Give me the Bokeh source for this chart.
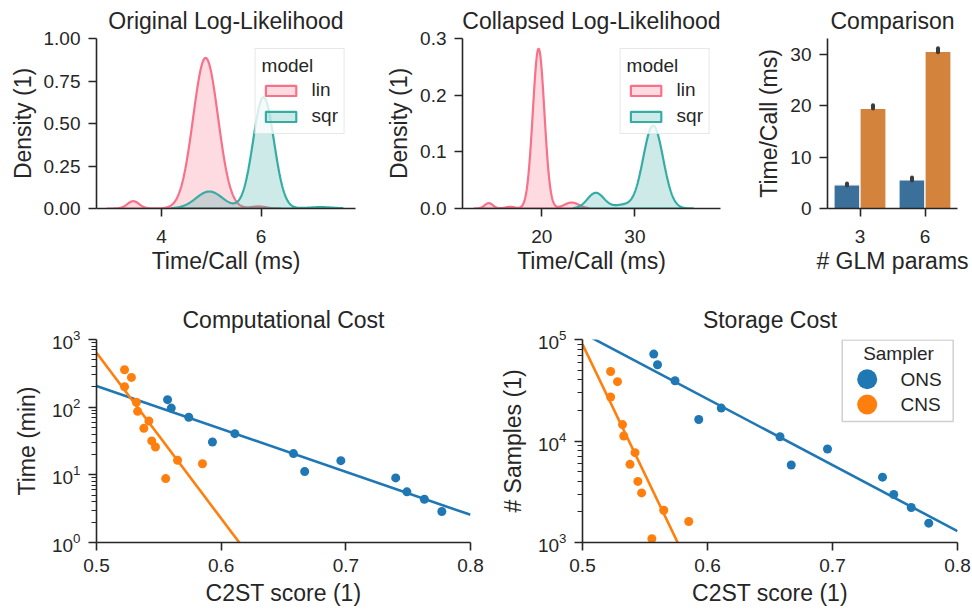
import numpy as np
from bokeh.plotting import figure
from bokeh.layouts import column, row
from bokeh.core.properties import value
from bokeh.models import (Range1d, FactorRange, FixedTicker, NumeralTickFormatter,
                          Legend, LegendItem, ColumnDataSource, LinearScale)
from bokeh.transform import dodge
from bokeh.embed import file_html
from bokeh.resources import INLINE

FONT = "Liberation Sans"
INK = "#262626"
LIN_COLOR = "#f77189"
SQR_COLOR = "#36ada4"
ONS_COLOR = "#1f77b4"
CNS_COLOR = "#ff7f0e"
ORIG_BAR = "#3a7099"
COLL_BAR = "#d4833d"

# ---- timing densities: kernel centres (ms), peak density, bandwidth (ms), support (ms)
orig_lin_centres = [3.43, 4.885, 5.95]
orig_lin_peaks = [0.043, 0.886, 0.012]
orig_lin_bw = [0.12, 0.25, 0.15]
orig_lin_support = [2.9, 6.4]

orig_sqr_centres = [4.96, 6.05, 7.2]
orig_sqr_peaks = [0.10, 0.655, 0.008]
orig_sqr_bw = [0.27, 0.21, 0.25]
orig_sqr_support = [4.2, 7.65]

coll_lin_centres = [14.3, 16.6, 19.65, 23.2]
coll_lin_peaks = [0.0094, 0.003, 0.282, 0.0105]
coll_lin_bw = [0.45, 0.5, 0.62, 0.8]
coll_lin_support = [12.7, 25.0]

coll_sqr_centres = [25.8, 28.7, 31.96]
coll_sqr_peaks = [0.0277, 0.006, 0.1465]
coll_sqr_bw = [0.9, 0.9, 1.07]
coll_sqr_support = [23.4, 36.3]

# ---- per-call timing comparison
glm_params = ["3", "6"]
original_ms = [4.6, 5.55]
original_lo = [4.5, 5.45]
original_hi = [4.85, 6.05]
collapsed_ms = [19.5, 30.6]
collapsed_lo = [19.45, 30.4]
collapsed_hi = [20.1, 31.2]

# ---- cost vs. accuracy per sampler
samplers = ["ONS", "CNS"]
c2st_ons = [0.557, 0.560, 0.574, 0.593, 0.611, 0.658, 0.667, 0.696, 0.740, 0.749, 0.763, 0.777]
time_ons = [129, 97, 71, 30.6, 40.6, 20.6, 11.2, 16.2, 9.0, 5.6, 4.36, 2.87]
samples_ons = [71800, 56400, 39200, 16300, 21100, 11000, 5800, 8350, 4400, 2970, 2210, 1550]

c2st_cns = [0.5225, 0.5225, 0.528, 0.532, 0.533, 0.538, 0.542, 0.5443, 0.5473, 0.5555, 0.565, 0.585]
time_cns = [357, 200, 275, 118, 86.7, 48.7, 62.4, 31.7, 25.8, 8.8, 16.4, 14.6]
samples_cns = [48400, 27100, 38400, 14500, 11200, 5890, 7680, 4000, 3080, 1090, 2080, 1610]


def density(centres, peaks, bw, support):
    xs = np.linspace(support[0], support[1], 400)
    ys = np.zeros_like(xs)
    for c, h, s in zip(centres, peaks, bw):
        ys += h * np.exp(-0.5 * ((xs - c) / s) ** 2)
    px = np.concatenate([xs, [xs[-1], xs[0]]])
    py = np.concatenate([ys, [0.0, 0.0]])
    return px, py


def style(p, title_standoff, xtick_standoff, xlabel_standoff, ylabel_standoff):
    p.outline_line_color = None
    p.xgrid.visible = False
    p.ygrid.visible = False
    p.background_fill_color = "white"
    p.border_fill_color = "white"
    p.title.text_font = FONT
    p.title.text_font_size = "23px"
    p.title.text_font_style = "normal"
    p.title.text_color = INK
    p.title.align = "center"
    p.title.vertical_align = "top"
    p.title.standoff = title_standoff
    for ax in list(p.xaxis) + list(p.yaxis):
        ax.axis_line_color = INK
        ax.axis_line_width = 1.6
        ax.major_tick_line_color = INK
        ax.major_tick_line_width = 1.6
        ax.major_tick_out = 8
        ax.major_tick_in = 0
        ax.minor_tick_line_color = None
        ax.major_label_text_font = FONT
        ax.major_label_text_font_size = "19px"
        ax.major_label_text_color = INK
        ax.axis_label_text_font = FONT
        ax.axis_label_text_font_size = "23px"
        ax.axis_label_text_font_style = "normal"
        ax.axis_label_text_color = INK
    for ax in p.xaxis:
        ax.major_label_standoff = xtick_standoff
        ax.axis_label_standoff = xlabel_standoff
    for ax in p.yaxis:
        ax.major_label_standoff = 8
        ax.axis_label_standoff = ylabel_standoff


def style_top(p):
    style(p, title_standoff=6, xtick_standoff=13, xlabel_standoff=2, ylabel_standoff=5)


def style_bottom(p):
    style(p, title_standoff=9, xtick_standoff=8, xlabel_standoff=5, ylabel_standoff=9)


def model_legend(p, r_lin, r_sqr):
    leg = Legend(
        title="model",
        items=[LegendItem(label="lin", renderers=[r_lin]),
               LegendItem(label="sqr", renderers=[r_sqr])],
        location="top_right", margin=10, padding=6, spacing=4,
        glyph_width=38, glyph_height=13, label_height=22, label_standoff=12,
        title_standoff=2,
        border_line_color="#d0d0d0", border_line_width=1.5,
        background_fill_color="white", background_fill_alpha=0.8,
        label_text_font=FONT, label_text_font_size="19px", label_text_color=INK,
        title_text_font=FONT, title_text_font_size="19px", title_text_font_style="normal",
        title_text_color=INK,
    )
    p.add_layout(leg)


def kde_panel(title, xr, yr, yticks, yfmt, xticks, lin, sqr, left, frame_w, right):
    p = figure(title=title, x_range=Range1d(*xr), y_range=Range1d(*yr),
               frame_width=frame_w, frame_height=170,
               min_border_left=left, min_border_right=right,
               min_border_top=38, min_border_bottom=82,
               output_backend="svg", toolbar_location=None)
    lx, ly = density(*lin)
    sx, sy = density(*sqr)
    r_lin = p.patch(lx, ly, fill_color=LIN_COLOR, fill_alpha=0.25,
                    line_color=LIN_COLOR, line_width=2.2)
    r_sqr = p.patch(sx, sy, fill_color=SQR_COLOR, fill_alpha=0.25,
                    line_color=SQR_COLOR, line_width=2.2)
    p.xaxis.axis_label = "Time/Call (ms)"
    p.yaxis.axis_label = "Density (1)"
    p.xaxis.ticker = FixedTicker(ticks=xticks)
    p.yaxis.ticker = FixedTicker(ticks=yticks)
    p.yaxis.formatter = NumeralTickFormatter(format=yfmt)
    style_top(p)
    model_legend(p, r_lin, r_sqr)
    return p


p1 = kde_panel("Original Log-Likelihood", (2.69, 7.90), (0, 1.0),
               [0, 0.25, 0.5, 0.75, 1.0], "0.00", [4, 6],
               (orig_lin_centres, orig_lin_peaks, orig_lin_bw, orig_lin_support),
               (orig_sqr_centres, orig_sqr_peaks, orig_sqr_bw, orig_sqr_support),
               96, 259, 20)

p2 = kde_panel("Collapsed Log-Likelihood", (11.47, 39.2), (0, 0.3),
               [0, 0.1, 0.2, 0.3], "0.0", [20, 30],
               (coll_lin_centres, coll_lin_peaks, coll_lin_bw, coll_lin_support),
               (coll_sqr_centres, coll_sqr_peaks, coll_sqr_bw, coll_sqr_support),
               87, 258, 20)

# ---- bar comparison
bars = ColumnDataSource(dict(params=glm_params,
                             original=original_ms, original_lo=original_lo, original_hi=original_hi,
                             collapsed=collapsed_ms, collapsed_lo=collapsed_lo, collapsed_hi=collapsed_hi))
p3 = figure(title="Comparison", x_range=FactorRange(*glm_params), y_range=Range1d(0, 33.1),
            frame_width=130, frame_height=170,
            min_border_left=87, min_border_right=15, min_border_top=38, min_border_bottom=82,
            output_backend="svg", toolbar_location=None)
p3.vbar(x=dodge("params", -0.2, range=p3.x_range), top="original", width=0.4, source=bars,
        fill_color=ORIG_BAR, line_color="white", line_width=1.2)
p3.vbar(x=dodge("params", 0.2, range=p3.x_range), top="collapsed", width=0.4, source=bars,
        fill_color=COLL_BAR, line_color="white", line_width=1.2)
p3.segment(x0=dodge("params", -0.2, range=p3.x_range), y0="original_lo",
           x1=dodge("params", -0.2, range=p3.x_range), y1="original_hi", source=bars,
           line_color="#3c3c3c", line_width=4, line_cap="round")
p3.segment(x0=dodge("params", 0.2, range=p3.x_range), y0="collapsed_lo",
           x1=dodge("params", 0.2, range=p3.x_range), y1="collapsed_hi", source=bars,
           line_color="#3c3c3c", line_width=4, line_cap="round")
p3.xaxis.axis_label = "# GLM params"
p3.yaxis.axis_label = "Time/Call (ms)"
p3.yaxis.ticker = FixedTicker(ticks=[0, 10, 20, 30])
style_top(p3)
p3.x_range.range_padding = 0


# ---- cost panels
def log_fit(x, y):
    slope, intercept = np.polyfit(np.asarray(x), np.log10(np.asarray(y)), 1)
    return slope, intercept


def cost_panel(title, ylabel, yr, yticks, y_ons, y_cns, left, frame_w, right):
    p = figure(title=title, x_range=Range1d(0.5, 0.8), y_range=Range1d(*yr),
               y_axis_type="log",
               frame_width=frame_w, frame_height=203,
               min_border_left=left, min_border_right=right,
               min_border_top=49, min_border_bottom=70,
               output_backend="svg", toolbar_location=None)
    xs = np.array([p.x_range.start, p.x_range.end])
    for x, y, col in ((c2st_ons, y_ons, ONS_COLOR), (c2st_cns, y_cns, CNS_COLOR)):
        m, b = log_fit(x, y)
        p.line(xs, 10 ** (m * xs + b), line_color=col, line_width=2.6)
        p.scatter(x, y, size=9, fill_color=col, line_color=None)
    p.xaxis.ticker = FixedTicker(ticks=[0.5, 0.6, 0.7, 0.8])
    lo, hi = int(np.log10(yr[0])), int(np.log10(yr[1]))
    minors = [m * 10 ** k for k in range(lo, hi) for m in range(2, 10)]
    p.yaxis.ticker = FixedTicker(ticks=yticks, minor_ticks=minors)
    p.xaxis.axis_label = "C2ST score (1)"
    p.yaxis.axis_label = ylabel
    style_bottom(p)
    for ax in p.yaxis:
        ax.minor_tick_line_color = INK
        ax.minor_tick_line_width = 1.2
        ax.minor_tick_out = 5
        ax.minor_tick_in = 0
    return p


p4 = cost_panel("Computational Cost", "Time (min)", (1, 1000), [1, 10, 100, 1000],
                time_ons, time_cns, 96, 374, 20)
p5 = cost_panel("Storage Cost", "# Samples (1)", (1000, 100000), [1000, 10000, 100000],
                samples_ons, samples_cns, 92, 375, 15)

# Sampler key drawn in frame pixel units (origin at the frame's bottom-left corner)
p5.extra_x_ranges = {"px": Range1d(0, 375)}
p5.extra_y_ranges = {"px": Range1d(0, 203)}
p5.extra_x_scales = {"px": LinearScale()}
p5.extra_y_scales = {"px": LinearScale()}
key_box = dict(left=[259.7], right=[370.7], bottom=[121], top=[202.5])
key_title_pos = dict(x=[316], y=[189.5])
key_marker_x = [284.7, 284.7]
key_row_y = [163.2, 138.0]
key_label_x = [318, 318]

p5.quad(x_range_name="px", y_range_name="px", **key_box,
        fill_color="white", fill_alpha=0.8, line_color="#d0d0d0", line_width=1.5)
p5.text(x_range_name="px", y_range_name="px", text=["Sampler"], **key_title_pos,
        text_align="center", text_baseline="middle",
        text_font=value(FONT), text_font_size="19px", text_color=INK)
p5.scatter(x_range_name="px", y_range_name="px", x=key_marker_x, y=key_row_y,
           size=20, fill_color=[ONS_COLOR, CNS_COLOR], line_color=None)
p5.text(x_range_name="px", y_range_name="px", x=key_label_x, y=key_row_y, text=samplers,
        text_align="left", text_baseline="middle",
        text_font=value(FONT), text_font_size="19px", text_color=INK)

layout = column(row(p1, p2, p3), row(p4, p5))
open("out.html", "w").write(file_html(layout, INLINE))
